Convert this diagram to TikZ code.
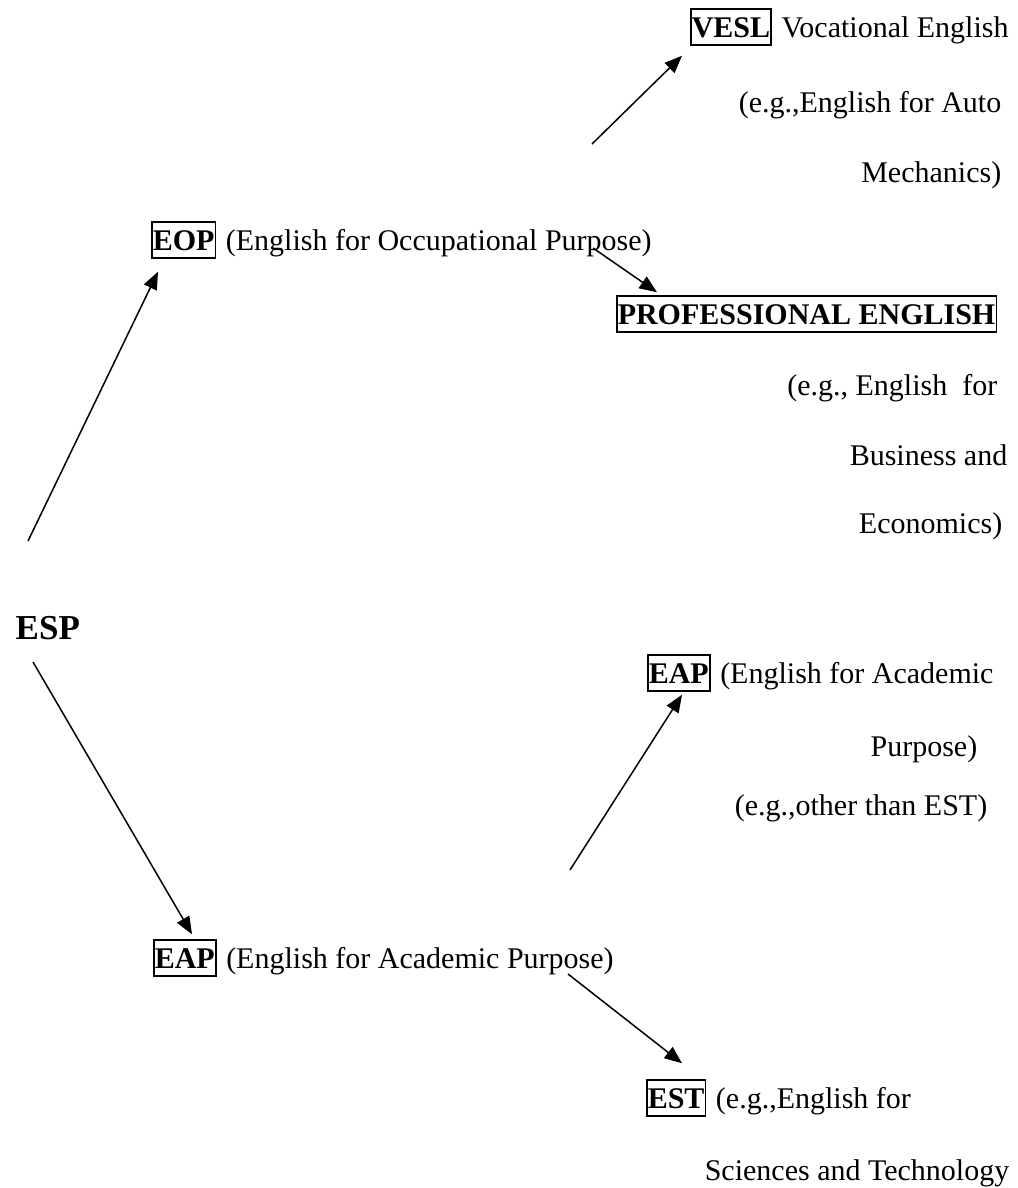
\documentclass[tikz,border=0pt]{standalone}
\usepackage{fontspec}
\setmainfont{Liberation Serif}
\usetikzlibrary{arrows.meta}
\newcommand\basefont{\fontsize{12}{14}\selectfont}
\tikzset{
  tag/.style={draw, line width=0.6pt, font={\basefont\bfseries}, inner xsep=0.4pt,
    inner ysep=0.6pt, text height=10.6pt, text depth=2.6pt, anchor=base west},
  rest/.style={anchor=base west, inner sep=0pt, xshift=3.6pt, font=\basefont},
  line/.style={anchor=base east, inner sep=0pt, font=\basefont}
}
\begin{document}
\begin{tikzpicture}[x=0.4pt, y=-0.4pt, >={Triangle[length=7pt,width=5.6pt]}, line width=0.6pt]
  \useasboundingbox (0,0) rectangle (1018,1188);
  \node[anchor=base west, inner sep=0pt, font=\fontsize{14}{16}\selectfont\bfseries] (esp) at (15,639) {ESP};

  % occupational branch
  \node[tag] (eop) at (151,250) {EOP};
  \node[rest] (eoptxt) at (eop.base east) {(English for Occupational Purpose)};
  \node[tag] (vesl) at (690,37) {VESL};
  \node[rest] (vesltxt) at (vesl.base east) {Vocational English};
  \node[line] (vesl2) at (1002,112) {(e.g.,English for Auto};
  \node[line] (vesl3) at (1002,182) {Mechanics)};
  \node[tag] (prof) at (616,324) {PROFESSIONAL ENGLISH};
  \node[line] (prof2) at (998,395) {(e.g., English\ \ for};
  \node[line] (prof3) at (1008,465) {Business and};
  \node[line] (prof4) at (1003,533) {Economics)};

  % academic branch
  \node[tag] (eapb) at (153,968) {EAP};
  \node[rest] (eapbtxt) at (eapb.base east) {(English for Academic Purpose)};
  \node[tag] (eapr) at (647,683) {EAP};
  \node[rest] (eaprtxt) at (eapr.base east) {(English for Academic};
  \node[line] (eapr2) at (978,756) {Purpose)};
  \node[line] (eapr3) at (988,815) {(e.g.,other than EST)};
  \node[tag] (est) at (646,1108) {EST};
  \node[rest] (esttxt) at (est.base east) {(e.g.,English for};
  \node[line] (est2) at (1010,1180) {Sciences and Technology};

  \coordinate (espup) at (28,541);
  \coordinate (espdown) at (33,662);
  \coordinate (eopout) at (593,248);
  \coordinate (veslin) at (592,144);
  \coordinate (eapout) at (570,870);
  \coordinate (estin) at (568,974);

  \draw[->] (espup) -- ([shift={(7,13)}]eop.south west);
  \draw[->] (espdown) -- ([shift={(39,-5)}]eapb.north west);
  \draw[->] (veslin) -- ([shift={(-8,10)}]vesl.south west);
  \draw[->] (eopout) -- ([shift={(41,-3)}]prof.north west);
  \draw[->] (eapout) -- ([shift={(35,3)}]eapr.south west);
  \draw[->] (estin) -- ([shift={(36,-16)}]est.north west);
\end{tikzpicture}
\end{document}
